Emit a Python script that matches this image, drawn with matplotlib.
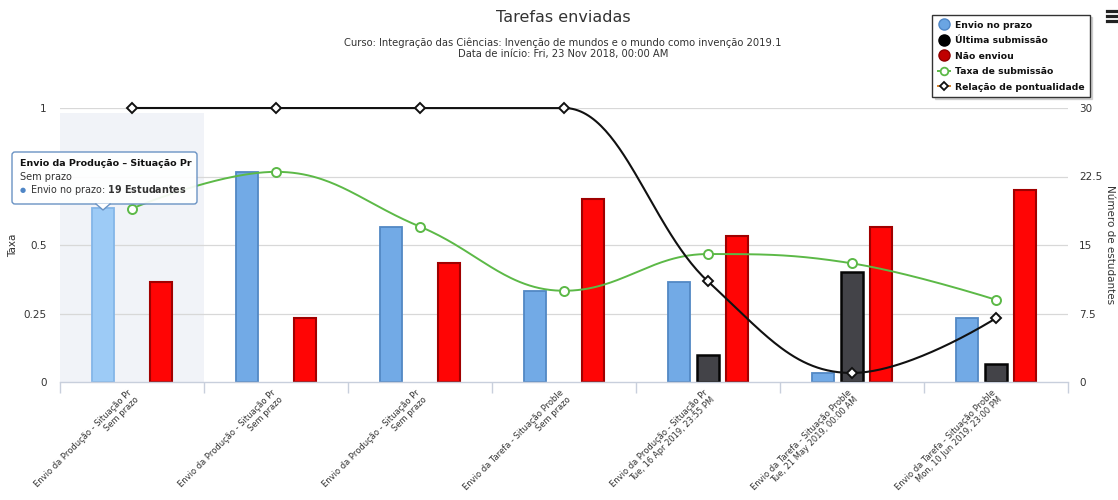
import numpy as np
import matplotlib
matplotlib.use("Agg")
import matplotlib.pyplot as plt
from matplotlib.lines import Line2D
from matplotlib.patches import FancyBboxPatch, Polygon
from matplotlib.transforms import IdentityTransform, ScaledTranslation

# ---------------- data ----------------
categories = [
    "Envio da Produção - Situação Pr\nSem prazo",
    "Envio da Produção - Situação Pr\nSem prazo",
    "Envio da Produção - Situação Pr\nSem prazo",
    "Envio da Tarefa - Situação Proble\nSem prazo",
    "Envio da Produção - Situação Pr\nTue, 16 Apr 2019, 23:55 PM",
    "Envio da Tarefa - Situação Proble\nTue, 21 May 2019, 00:00 AM",
    "Envio da Tarefa - Situação Proble\nMon, 10 Jun 2019, 23:00 PM",
]
envio_no_prazo = [19, 23, 17, 10, 11, 1, 7]
ultima_submissao = [0, 0, 0, 0, 3, 12, 2]
nao_enviou = [11, 7, 13, 20, 16, 17, 21]
taxa_submissao = [0.633, 0.767, 0.567, 0.333, 0.467, 0.433, 0.300]
relacao_pontualidade = [1, 1, 1, 1, 0.367, 0.033, 0.233]
left_ticks = [0, 0.25, 0.5, 0.75, 1]
left_labels = ["0", "0.25", "0.5", "", "1"]
right_ticks = [0, 7.5, 15, 22.5, 30]
right_labels = ["0", "7.5", "15", "22.5", "30"]

title = "Tarefas enviadas"
subtitle = ("Curso: Integração das Ciências: Invenção de mundos e o mundo como invenção 2019.1\n"
            "Data de início: Fri, 23 Nov 2018, 00:00 AM")

W, H = 1118, 500
plt.rcParams['font.family'] = ['DejaVu Sans']

fig = plt.figure(figsize=(W / 100, H / 100), dpi=100)
fig.patch.set_facecolor("white")

L, R, T, B = 60, 1068, 108, 382
ax2 = fig.add_axes([L / W, 1 - B / H, (R - L) / W, (B - T) / H])  # bars (right scale)
ax = fig.add_axes(ax2.get_position(), sharex=ax2)  # lines (left scale)
ax.set_zorder(ax2.get_zorder() + 1)
ax.patch.set_visible(False)

n = len(categories)
x = np.arange(n)

# hover band
ax2.axvspan(-0.5, 0.5, ymin=0, ymax=(B - 113) / (B - T), color="#f1f3f8", zorder=0, lw=0)

# grid
for t in right_ticks[1:]:
    ax2.axhline(t, color="#d8d8d8", lw=0.9, zorder=0.5)

bw = 0.152
off = 0.2
blue_face = ["#9dcbf6"] + ["#72aae6"] * (n - 1)
blue_edge = ["#84b6e8"] + ["#5288c4"] * (n - 1)
ax2.bar(x - off, envio_no_prazo, bw, color=blue_face, edgecolor=blue_edge,
        lw=[1.3 if v else 0 for v in envio_no_prazo], zorder=2)
ax2.bar(x, ultima_submissao, bw, color="#434348", edgecolor="#050505",
        lw=[1.8 if v else 0 for v in ultima_submissao], zorder=2)
ax2.bar(x + off, nao_enviou, bw, color="#ff0505", edgecolor="#a00000",
        lw=[1.5 if v else 0 for v in nao_enviou], zorder=2)

ax2.set_ylim(0, 30)
ax2.set_xlim(-0.5, n - 0.5)
ax.set_ylim(0, 1)


def hc_spline(xs, ys, samples=60):
    xs = np.asarray(xs, float)
    ys = np.asarray(ys, float)
    m = len(xs)
    lcx, lcy = xs.copy(), ys.copy()
    rcx, rcy = xs.copy(), ys.copy()
    s = 1.5
    d = s + 1
    for i in range(1, m - 1):
        px, py = xs[i], ys[i]
        lx, ly = xs[i - 1], ys[i - 1]
        nx, ny = xs[i + 1], ys[i + 1]
        lX = (s * px + lx) / d
        lY = (s * py + ly) / d
        rX = (s * px + nx) / d
        rY = (s * py + ny) / d
        if rX != lX:
            corr = ((rY - lY) * (rX - px)) / (rX - lX) + py - rY
            lY += corr
            rY += corr
            if lY > ly and lY > py:
                lY = max(ly, py)
                rY = 2 * py - lY
            elif lY < ly and lY < py:
                lY = min(ly, py)
                rY = 2 * py - lY
            if rY > ny and rY > py:
                rY = max(ny, py)
                lY = 2 * py - rY
            elif rY < ny and rY < py:
                rY = min(ny, py)
                lY = 2 * py - rY
        lcx[i], lcy[i], rcx[i], rcy[i] = lX, lY, rX, rY
    outx, outy = [xs[0]], [ys[0]]
    t = np.linspace(0, 1, samples)[1:]
    for i in range(1, m):
        p0 = np.array([xs[i - 1], ys[i - 1]])
        p1 = np.array([rcx[i - 1], rcy[i - 1]])
        p2 = np.array([lcx[i], lcy[i]])
        p3 = np.array([xs[i], ys[i]])
        tt = t[:, None]
        pts = ((1 - tt) ** 3) * p0 + 3 * ((1 - tt) ** 2) * tt * p1 + 3 * (1 - tt) * tt ** 2 * p2 + tt ** 3 * p3
        outx.extend(pts[:, 0])
        outy.extend(pts[:, 1])
    return np.array(outx), np.array(outy)


green = "#5cb947"
sx, sy = hc_spline(x, taxa_submissao)
ax.plot(sx, sy, color=green, lw=1.4, zorder=3, clip_on=False)
ax.plot(x, taxa_submissao, ls="none", marker="o", ms=6.5, mfc="white", mec=green, mew=1.4, zorder=4, clip_on=False)

sx, sy = hc_spline(x, relacao_pontualidade)
ax.plot(sx, sy, color="#111111", lw=1.5, zorder=3, clip_on=False)
ax.plot(x, relacao_pontualidade, ls="none", marker="D", ms=4.6, mfc="white", mec="#111111", mew=1.4, zorder=4, clip_on=False)

# axes styling
for a in (ax, ax2):
    for sp in a.spines.values():
        sp.set_visible(False)
ax2.spines["bottom"].set_visible(True)
ax2.spines["bottom"].set_color("#c8cfdc")
ax2.spines["bottom"].set_linewidth(1.0)

ax.set_yticks(left_ticks)
ax.set_yticklabels(left_labels)
ax.tick_params(axis="y", left=True, right=False, labelleft=True, labelright=False,
               length=0, pad=9.5, labelsize=7.5, labelcolor="#333333")
ax.set_ylabel("Taxa", fontsize=7.5, color="#333333", labelpad=4)

ax2.yaxis.tick_right()
ax2.yaxis.set_label_position("right")
ax2.set_yticks(right_ticks)
ax2.set_yticklabels(right_labels)
ax2.tick_params(axis="y", length=0, pad=8, labelsize=7.5, labelcolor="#333333")
ax2.set_ylabel("Número de estudantes", fontsize=7.5, color="#333333", rotation=270, labelpad=9)

ax.tick_params(axis="x", which="both", bottom=False, labelbottom=False)
ax2.set_xticks(x)
ax2.set_xticklabels([])
ax2.set_xticks(np.arange(n + 1) - 0.5, minor=True)
ax2.tick_params(axis="x", which="major", length=0)
ax2.tick_params(axis="x", which="minor", length=8, color="#c8cfdc", width=1.0)

# category labels (rotated), anchored just below each category centre
lab_tr = ax2.get_xaxis_transform() + ScaledTranslation(-5 / 100, -6 / 100, fig.dpi_scale_trans)
for xi, lab in zip(x, categories):
    ax2.text(xi, 0, lab, transform=lab_tr, rotation=45, ha="right", va="top",
             rotation_mode="anchor", multialignment="right", fontsize=6.0,
             color="#333333", linespacing=1.1, clip_on=False)

# title/subtitle
fig.text(563 / W, 1 - 18 / H, title, ha="center", va="center", fontsize=11.5, color="#333333")
fig.text(563 / W, 1 - 48 / H, subtitle, ha="center", va="center", fontsize=7.2, color="#333333",
         linespacing=1.15)

# hamburger icon
for yy in (11, 16, 21):
    fig.add_artist(Line2D([1107 / W, 1117 / W], [1 - yy / H, 1 - yy / H], color="#222222", lw=2.3))

# legend
handles = [
    Line2D([], [], ls="none", marker="o", ms=8, mfc="#6aa5e3", mec="#4f86c6"),
    Line2D([], [], ls="none", marker="o", ms=8, mfc="#000000", mec="#000000"),
    Line2D([], [], ls="none", marker="o", ms=8, mfc="#c00000", mec="#900000"),
    Line2D([], [], color=green, lw=1.4, marker="o", ms=5.5, mfc="white", mec=green, mew=1.3),
    Line2D([], [], color="#d9822b", lw=1.4, marker="D", ms=4.2, mfc="white", mec="#111111", mew=1.3),
]
labels = ["Envio no prazo", "Última submissão", "Não enviou", "Taxa de submissão", "Relação de pontualidade"]
leg = fig.legend(handles, labels, loc="upper right", bbox_to_anchor=(1090 / W, 1 - 15 / H),
                 prop={"weight": "bold", "size": 6.7}, frameon=True, fancybox=False,
                 handlelength=1.3, handletextpad=0.5, labelspacing=0.7, borderpad=0.6,
                 borderaxespad=0, shadow={"ox": 1.5, "oy": -1.5, "color": "#bbbbbb", "alpha": 0.6})
leg.get_frame().set_edgecolor("#333333")
leg.get_frame().set_linewidth(1.0)
for txt in leg.get_texts():
    txt.set_color("#111111")

# tooltip (pixel coordinates, origin top-left converted)
def P(px, py):
    return (px, H - py)

box = FancyBboxPatch(P(12, 204), 185, 52, boxstyle="round,pad=0,rounding_size=3",
                     transform=IdentityTransform(), fc=(1, 1, 1, 0.92), ec="#6a93c4", lw=1.0, zorder=10)
fig.add_artist(box)
tri = Polygon([P(96, 203.5), P(110, 203.5), P(103, 210)], closed=True, transform=IdentityTransform(),
              fc="white", ec="none", zorder=11)
fig.add_artist(tri)
fig.add_artist(Line2D([96, 103, 110], [H - 204, H - 210, H - 204], transform=IdentityTransform(),
                      color="#6a93c4", lw=1.0, zorder=12))
fig.text(20 / W, 1 - 163 / H, "Envio da Produção – Situação Pr", fontsize=6.8, weight="bold",
         color="#111111", va="center", ha="left", zorder=13)
fig.text(20 / W, 1 - 177 / H, "Sem prazo", fontsize=7.0, color="#333333", va="center", ha="left", zorder=13)
fig.text(20 / W, 1 - 190 / H, "●", fontsize=5, color="#4f86c6", va="center", ha="left", zorder=13)
fig.text(30 / W, 1 - 190 / H, "Envio no prazo: $\\mathbf{19\\ Estudantes}$", fontsize=6.9, color="#333333",
         va="center", ha="left", zorder=13)

fig.savefig("out.png", dpi=100, facecolor="white")
